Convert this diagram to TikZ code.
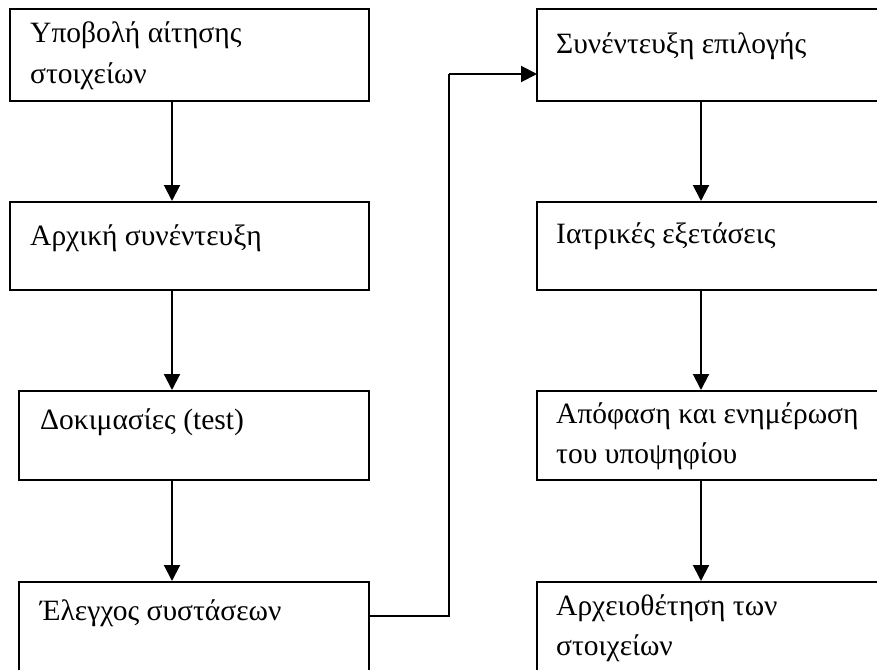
\documentclass[tikz,border=0pt]{standalone}
\usepackage{fontspec}
\setmainfont{Liberation Serif}
\usetikzlibrary{arrows.meta}
\begin{document}
\begin{tikzpicture}[x=1pt,y=-1pt,
  stepbox/.style={draw=black,line width=2pt,rectangle,inner sep=0pt},
  label/.style={anchor=base west,inner sep=0pt,align=left,
    font=\fontsize{29.5}{40}\selectfont},
  arr/.style={line width=2pt,-{Triangle[length=16pt,width=16pt]}},
  link/.style={line width=2pt}]
\useasboundingbox (0,0) rectangle (877,669);
\clip (0,0) rectangle (877,669);

% left column
\node[stepbox,minimum width=359pt,minimum height=92pt] (b1) at (189.5,55) {};
\node[stepbox,minimum width=359pt,minimum height=88pt] (b2) at (189.5,246) {};
\node[stepbox,minimum width=350pt,minimum height=89pt] (b3) at (194,435.5) {};
\node[stepbox,minimum width=350pt,minimum height=93pt] (b4) at (194,628.5) {};
% right column
\node[stepbox,minimum width=348pt,minimum height=92pt] (b5) at (711,55) {};
\node[stepbox,minimum width=348pt,minimum height=88pt] (b6) at (711,246) {};
\node[stepbox,minimum width=348pt,minimum height=89pt] (b7) at (711,435.5) {};
\node[stepbox,minimum width=348pt,minimum height=93pt] (b8) at (711,628.5) {};

% box texts (base anchor sits on the last line)
\node[label] (t1) at (30,83) {Υποβολή αίτησης\\στοιχείων};
\node[label] (t2) at (30,245) {Αρχική συνέντευξη};
\node[label] (t3) at (40,429) {Δοκιμασίες (test)};
\node[label] (t4) at (40,620) {Έλεγχος συστάσεων};
\node[label] (t5) at (556,54) {Συνέντευξη επιλογής};
\node[label] (t6) at (556,243) {Ιατρικές εξετάσεις};
\node[label] (t7) at (556,463) {Απόφαση και ενημέρωση\\του υποψηφίου};
\node[label] (t8) at (556,655) {Αρχειοθέτηση των\\στοιχείων};

% connectors
\coordinate (lcol) at (172,0);
\coordinate (rcol) at (701,0);
\draw[arr] (b1.south -| lcol) -- (b2.north -| lcol);
\draw[arr] (b2.south -| lcol) -- (b3.north -| lcol);
\draw[arr] (b3.south -| lcol) -- (b4.north -| lcol);
\draw[arr] (b5.south -| rcol) -- (b6.north -| rcol);
\draw[arr] (b6.south -| rcol) -- (b7.north -| rcol);
\draw[arr] (b7.south -| rcol) -- (b8.north -| rcol);

\coordinate (out) at (369,616);
\coordinate (bend) at (449,616);
\coordinate (in) at (537,74);
\draw[link] (out) -- (bend) -- (bend |- in);
\draw[arr] (bend |- in) -- (in);
\end{tikzpicture}
\end{document}
